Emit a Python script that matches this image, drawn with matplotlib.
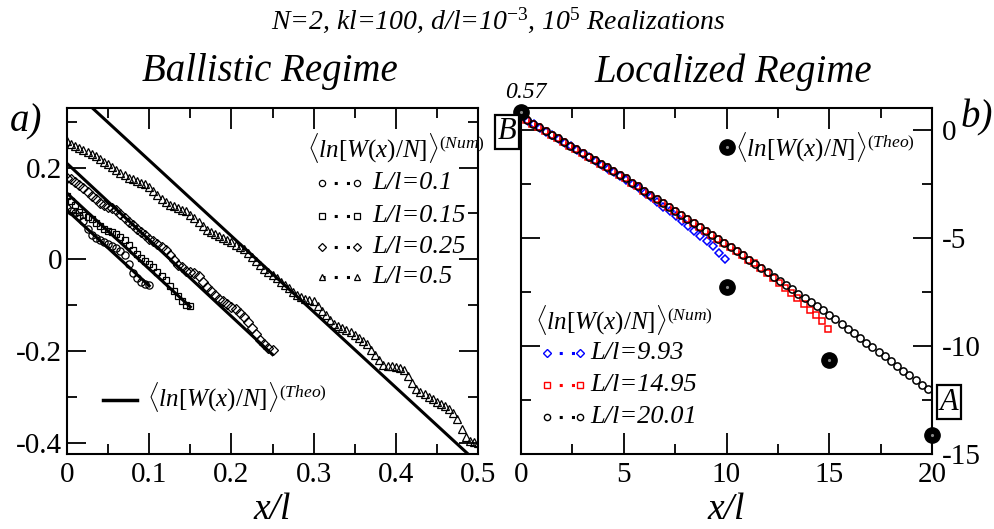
import matplotlib.pyplot as plt
import numpy as np
from matplotlib.lines import Line2D
from matplotlib.ticker import MultipleLocator

plt.rcParams['font.family'] = ['Liberation Serif', 'DejaVu Serif']
plt.rcParams['mathtext.fontset'] = 'custom'
plt.rcParams['mathtext.rm'] = 'Liberation Serif'
plt.rcParams['mathtext.it'] = 'Liberation Serif:italic'
plt.rcParams['mathtext.bf'] = 'Liberation Serif:bold'
plt.rcParams['axes.unicode_minus'] = False

# ---- ballistic regime (left panel) ----
ball_L = [0.1, 0.15, 0.25, 0.5]
ball_labels = ['L/l=0.1', 'L/l=0.15', 'L/l=0.25', 'L/l=0.5']
ball_markers = ['o', 's', 'D', '^']

y_01 = [0.111, 0.106, 0.101, 0.094, 0.083, 0.066, 0.053, 0.046, 0.041, 0.037,
        0.034, 0.029, 0.024, 0.018, 0.010, -0.010, -0.030, -0.040, -0.049,
        -0.055, -0.057]
y_015 = [0.137, 0.128, 0.118, 0.104, 0.097, 0.092, 0.087, 0.080, 0.073, 0.065,
         0.062, 0.060, 0.056, 0.049, 0.041, 0.031, 0.021, 0.012, 0.003, -0.004,
         -0.010, -0.017, -0.027, -0.037, -0.046, -0.058, -0.069, -0.080, -0.091,
         -0.100, -0.103]
y_025 = [0.178, 0.174, 0.169, 0.162, 0.155, 0.147, 0.139, 0.131, 0.122, 0.119,
         0.115, 0.112, 0.107, 0.099, 0.090, 0.082, 0.074, 0.067, 0.059, 0.052,
         0.045, 0.039, 0.033, 0.027, 0.021, 0.010, -0.002, -0.012, -0.018,
         -0.025, -0.028, -0.031, -0.037, -0.049, -0.060, -0.069, -0.078, -0.086,
         -0.092, -0.098, -0.104, -0.109, -0.117, -0.126, -0.136, -0.150, -0.163,
         -0.177, -0.186, -0.194, -0.199]
y_05 = [0.257, 0.252, 0.248, 0.243, 0.239, 0.234, 0.229, 0.225,
        0.219, 0.213, 0.207, 0.201, 0.195, 0.189, 0.184,
        0.178, 0.175, 0.171, 0.167, 0.164,
        0.157, 0.149, 0.140, 0.132, 0.124,
        0.119, 0.116, 0.112, 0.108, 0.105,
        0.097, 0.089, 0.081, 0.072, 0.064,
        0.060, 0.055, 0.051, 0.046,
        0.042, 0.037, 0.032, 0.027, 0.022,
        0.013, 0.004, -0.004, -0.013,
        -0.021, -0.028, -0.035, -0.042, -0.049,
        -0.056, -0.063, -0.071, -0.078,
        -0.083, -0.086, -0.089, -0.092,
        -0.102, -0.112, -0.122, -0.132,
        -0.141, -0.145, -0.150, -0.155, -0.159,
        -0.165, -0.172, -0.178,
        -0.186, -0.197, -0.208, -0.220, -0.231,
        -0.232, -0.234, -0.235, -0.237,
        -0.241, -0.255, -0.270, -0.284,
        -0.290, -0.295, -0.300, -0.306,
        -0.311, -0.315, -0.320,
        -0.327, -0.336,
        -0.348, -0.371,
        -0.387, -0.397, -0.399, -0.400]
ball_y = [y_01, y_015, y_025, y_05]
ball_ms = [5.2, 5.0, 4.6, 6.0]

# theoretical straight lines: value at x=0 and at x=L
theo_start = [0.107, 0.144, 0.209, 0.381]
theo_end = [-0.058, -0.104, -0.208, -0.445]

# ---- localized regime (right panel) ----
loc_L = [9.93, 14.95, 20.01]
loc_labels = ['L/l=9.93', 'L/l=14.95', 'L/l=20.01']
y_993 = [0.42, 0.25, 0.08, -0.09, -0.26, -0.43, -0.60, -0.77, -0.94, -1.11,
         -1.28, -1.46, -1.63, -1.80, -1.98, -2.16, -2.34, -2.52, -2.71, -2.91,
         -3.12, -3.34, -3.56, -3.78, -4.00, -4.21, -4.44, -4.67, -4.91, -5.15,
         -5.40, -5.69, -5.98]
y_1495 = [0.43, 0.26, 0.10, -0.07, -0.24, -0.41, -0.58, -0.74, -0.91, -1.08,
          -1.25, -1.42, -1.58, -1.75, -1.92, -2.09, -2.26, -2.45, -2.63, -2.82,
          -3.01, -3.19, -3.38, -3.56, -3.75, -3.94, -4.12, -4.31, -4.49, -4.68,
          -4.87, -5.05, -5.24, -5.43, -5.63, -5.82, -6.02, -6.18, -6.40, -6.62,
          -6.85, -7.08, -7.31, -7.55, -7.80, -8.06, -8.33, -8.58, -8.86, -9.20]
y_2001 = [0.43, 0.26, 0.10, -0.07, -0.24, -0.41, -0.58, -0.74, -0.91, -1.08,
          -1.25, -1.42, -1.58, -1.75, -1.92, -2.09, -2.26, -2.45, -2.63, -2.82,
          -3.01, -3.19, -3.38, -3.56, -3.75, -3.94, -4.12, -4.31, -4.49, -4.68,
          -4.87, -5.05, -5.24, -5.43, -5.63, -5.82, -6.02, -6.21, -6.41, -6.60,
          -6.80, -6.99, -7.19, -7.38, -7.58, -7.77, -7.97, -8.16, -8.36, -8.55,
          -8.77, -8.98, -9.20, -9.41, -9.63, -9.85, -10.06, -10.28, -10.49,
          -10.71, -10.93, -11.14, -11.36, -11.57, -11.79, -12.01]
loc_start = [0.33, 0.25, 0.30]
loc_end = [9.93, 14.95, 19.8]
loc_y = [y_993, y_1495, y_2001]
loc_colors = ['#0000ff', '#ff0000', 'black']
loc_markers = ['D', 's', 'o']
loc_ms = [4.0, 4.8, 5.2]

theo_x = [0, 10, 15, 20]
theo_y = [0.8, -7.29, -10.64, -14.12]

W, H = 994, 529
fig = plt.figure(figsize=(W / 100, H / 100), dpi=100)


def fx(px):
    return px / W


def fy(py):
    return 1 - py / H


def style_axes(ax):
    for s in ax.spines.values():
        s.set_linewidth(1.5)
    ax.tick_params(which='both', direction='in', top=True, bottom=True,
                   left=True, right=True, width=1.3, labelsize=21)
    ax.tick_params(which='major', length=14)
    ax.tick_params(which='minor', length=7)
    ax.tick_params(axis='x', which='major', length=15, pad=6)
    ax.set_xlabel('x/l', fontsize=27, style='italic', labelpad=3)


hdr_num = r'$\langle ln[W(x)/N]\rangle^{(Num)}$'
hdr_theo = r'$\langle ln[W(x)/N]\rangle^{(Theo)}$'

# ---------------- left panel ----------------
ax1 = fig.add_axes([fx(67), fy(454), (478 - 67) / W, (454 - 108) / H])
for L, s, e in zip(ball_L, theo_start, theo_end):
    ax1.plot([0, L], [s, e], color='black', lw=2.2)
for L, y, m, ms in zip(ball_L, ball_y, ball_markers, ball_ms):
    x = np.linspace(0, L, len(y))
    ax1.plot(x, y, ls='none', marker=m, ms=ms, mfc='none', mec='black',
             mew=0.9)
ax1.set_xlim(0, 0.5)
ax1.set_ylim(-0.425, 0.33)
ax1.xaxis.set_minor_locator(MultipleLocator(0.05))
ax1.yaxis.set_minor_locator(MultipleLocator(0.1))
ax1.set_xticks([0, 0.1, 0.2, 0.3, 0.4, 0.5])
ax1.set_xticklabels(['0', '0.1', '0.2', '0.3', '0.4', '0.5'])
ax1.set_yticks([-0.4, -0.2, 0, 0.2])
ax1.set_yticklabels(['-0.4', '-0.2', '0', '0.2'])
style_axes(ax1)

# left legend (numerical)
fig.text(fx(307), fy(148), hdr_num, fontsize=18, ha='left', va='center')
for i, (lab, m) in enumerate(zip(ball_labels, ball_markers)):
    yy = [183, 216, 247, 277][i]
    fig.add_artist(Line2D([fx(322), fx(357)], [fy(yy), fy(yy)],
                          transform=fig.transFigure, ls=(0, (1, 3)), lw=2.2,
                          color='black', marker=m, ms=4.5 if m != 'D' else 4,
                          mfc='white', mec='black', mew=0.9))
    fig.text(fx(372), fy(yy), lab, fontsize=19, style='italic',
             ha='left', va='center')
# left legend (theory)
fig.add_artist(Line2D([fx(103), fx(137)], [fy(400), fy(400)],
                      transform=fig.transFigure, lw=2.5, color='black'))
fig.text(fx(147), fy(397), hdr_theo, fontsize=18, ha='left', va='center')

# ---------------- right panel ----------------
ax2 = fig.add_axes([fx(521), fy(454), (932 - 521) / W, (454 - 108) / H])
for x0, x1, y, c, m, ms in zip(loc_start, loc_end, loc_y, loc_colors,
                               loc_markers, loc_ms):
    x = np.linspace(x0, x1, len(y))
    ax2.plot(x, y, ls='none', marker=m, ms=ms, mfc='none', mec=c, mew=1.1)
ax2.plot(theo_x, theo_y, ls='none', marker='o', ms=11, color='black',
         clip_on=False, zorder=5)
ax2.plot(theo_x, theo_y, ls='none', marker='.', ms=2.5, color='#888888',
         clip_on=False, zorder=6)
ax2.set_xlim(0, 20)
ax2.set_ylim(-15, 1)
ax2.xaxis.set_major_locator(MultipleLocator(5))
ax2.xaxis.set_minor_locator(MultipleLocator(2.5))
ax2.yaxis.set_major_locator(MultipleLocator(5))
ax2.yaxis.set_minor_locator(MultipleLocator(2.5))
style_axes(ax2)
ax2.tick_params(axis='y', labelleft=False, labelright=True, pad=7)

# right legend (theory)
ax2.plot([fx(727)], [fy(147)], transform=fig.transFigure, marker='o', ms=11,
         color='black', clip_on=False)
ax2.plot([fx(727)], [fy(147)], transform=fig.transFigure, marker='.',
         ms=2.5, color='#888888', clip_on=False)
fig.text(fx(735), fy(147), hdr_theo, fontsize=18, ha='left', va='center')
# right legend (numerical)
fig.text(fx(535), fy(320), hdr_num, fontsize=18, ha='left', va='center')
for i, (lab, c, m) in enumerate(zip(loc_labels, loc_colors, loc_markers)):
    yy = [353, 385, 417][i]
    fig.add_artist(Line2D([fx(547), fx(580)], [fy(yy), fy(yy)],
                          transform=fig.transFigure, ls=(0, (1, 3)), lw=2.2,
                          color=c, marker=m, ms=4.5 if m != 'D' else 4,
                          mfc='white', mec=c, mew=1.0))
    fig.text(fx(590), fy(yy), lab, fontsize=19, style='italic',
             ha='left', va='center')

# annotations
fig.text(fx(526), fy(92), '0.57', fontsize=17, style='italic',
         ha='center', va='center')
fig.text(fx(507), fy(132), 'B', fontsize=22, style='italic', ha='center',
         va='center', bbox=dict(boxstyle='square,pad=0.08', fc='white',
                                ec='black', lw=1.6))
fig.text(fx(949), fy(402), 'A', fontsize=22, style='italic', ha='center',
         va='center', bbox=dict(boxstyle='square,pad=0.08', fc='white',
                                ec='black', lw=1.6))

# titles and panel labels
fig.text(fx(498), fy(20),
         r'N=2, kl=100, d/l=10$^{\mathit{-3}}$, 10$^{\mathit{5}}$ Realizations',
         fontsize=20, style='italic', ha='center', va='center')
fig.text(fx(270), fy(72), 'Ballistic Regime', fontsize=28, style='italic',
         ha='center', va='center')
fig.text(fx(733), fy(72), 'Localized Regime', fontsize=28, style='italic',
         ha='center', va='center')
fig.text(fx(26), fy(122), 'a)', fontsize=28, style='italic',
         ha='center', va='center')
fig.text(fx(977), fy(118), 'b)', fontsize=28, style='italic',
         ha='center', va='center')

fig.savefig('out.png', dpi=100)
